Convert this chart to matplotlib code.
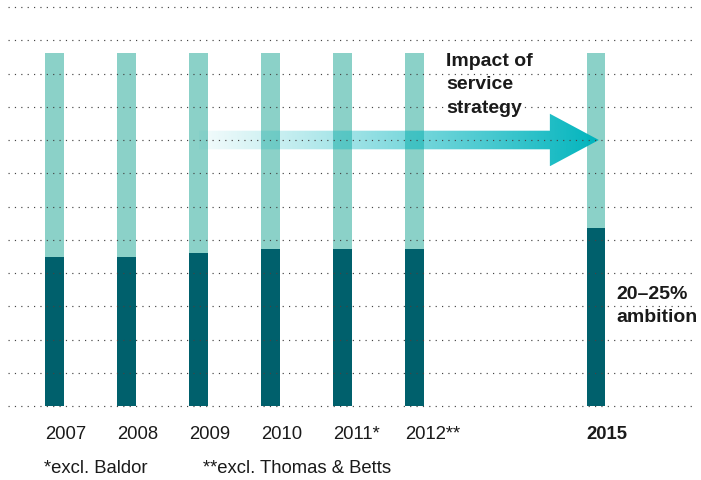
import numpy as np
import matplotlib
matplotlib.use("Agg")
import matplotlib.pyplot as plt
from matplotlib.patches import Polygon
from matplotlib.colors import to_rgb

plt.rcParams['font.family'] = ['Liberation Sans', 'DejaVu Sans']

# datos (unidades = separacion de la rejilla)
years      = ["2007", "2008", "2009", "2010", "2011*", "2012**", "2015"]
x_pos      = [0, 1, 2, 3, 4, 5, 7.52]
total      = [10.63, 10.63, 10.63, 10.63, 10.63, 10.63, 10.63]
service    = [4.48, 4.48, 4.61, 4.71, 4.71, 4.72, 5.36]
grid_lines = list(range(13))
notes      = ["*excl. Baldor", "**excl. Thomas & Betts"]
note_x     = [-0.146, 2.06]

LIGHT = "#8bd1c8"
DARK  = "#00606c"
ARROW = "#00b4bd"
TXT   = "#1a1a1a"

fig = plt.figure(figsize=(7.01, 4.8), dpi=100)
ax = fig.add_axes([8 / 701, 74 / 480, 686 / 701, 399 / 480])

bw = 0.26
rest = [t - s for t, s in zip(total, service)]
ax.bar(x_pos, service, width=bw, color=DARK, zorder=2)
ax.bar(x_pos, rest, bottom=service, width=bw, color=LIGHT, zorder=2)

# flecha con degradado
x0, x1, xh = 2.0, 7.56, 6.88
yc, hs, hh = 8.0, 0.28, 0.79
verts = [(x0, yc - hs), (xh, yc - hs), (xh, yc - hh), (x1, yc),
         (xh, yc + hh), (xh, yc + hs), (x0, yc + hs)]
poly = Polygon(verts, closed=True, facecolor="none", edgecolor="none")
ax.add_patch(poly)
n = 256
grad = np.zeros((1, n, 4))
grad[..., :3] = to_rgb(ARROW)
grad[0, :, 3] = np.linspace(0.06, 1.0, n) ** 1.1
im = ax.imshow(grad, extent=[x0, x1, yc - hh, yc + hh], aspect="auto",
               interpolation="bilinear", zorder=3)
im.set_clip_path(poly)

for g in grid_lines:
    ax.axhline(g, color="#444444", lw=0.85, linestyle=(0, (1, 4.4)),
               zorder=5, clip_on=False)

ax.set_xlim(-0.646, -0.646 + 686 / 72)
ax.set_ylim(0, 12)
ax.axis("off")

for i, (x, lab) in enumerate(zip(x_pos, years)):
    ax.text(x - bw / 2, -1.0, lab, ha="left", va="baseline", fontsize=13.3,
            color=TXT, fontweight="bold" if lab == "2015" else "normal",
            clip_on=False)

for x, t in zip(note_x, notes):
    ax.text(x, -2.02, t, ha="left", va="baseline", fontsize=13.3,
            color=TXT, clip_on=False)

ax.text(5.44, 10.63, "Impact of\nservice\nstrategy", ha="left", va="top",
        fontsize=14, fontweight="bold", color=TXT, linespacing=1.53)
ax.text(7.80, 3.61, "20–25%\nambition", ha="left", va="top",
        fontsize=14, fontweight="bold", color=TXT, linespacing=1.5)

fig.savefig("out.png", dpi=100)
